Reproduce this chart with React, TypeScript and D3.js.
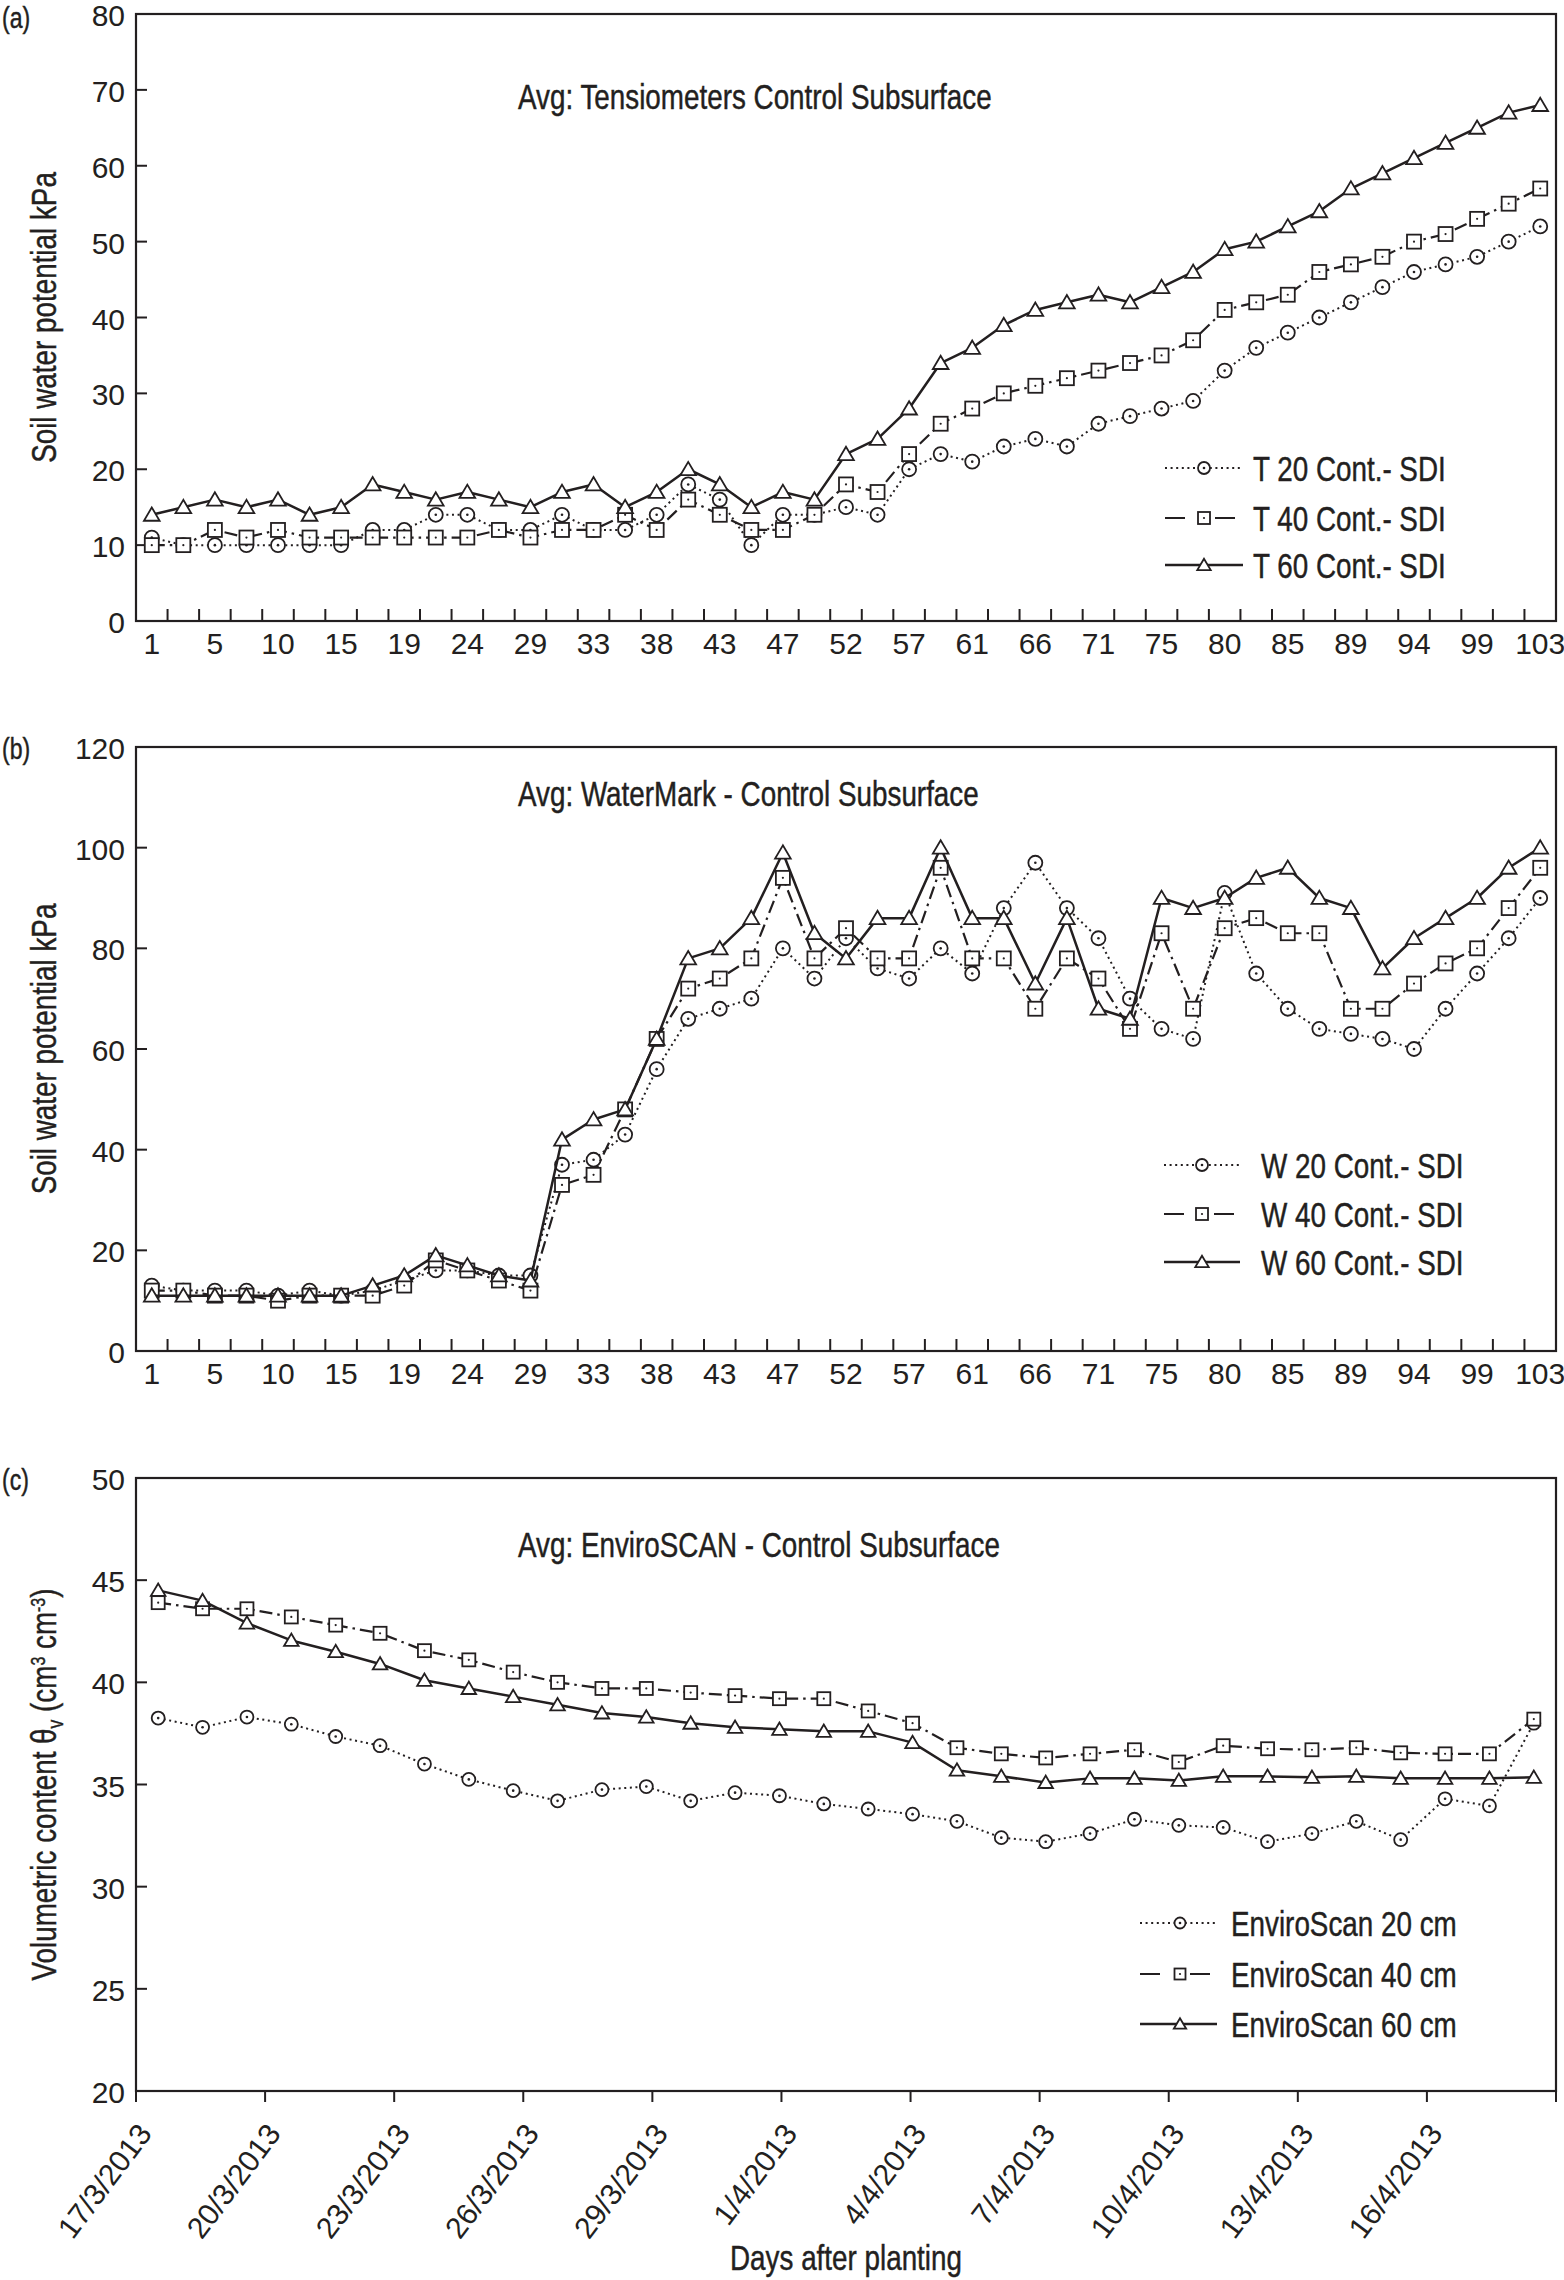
import React from 'react';
import * as d3 from 'd3';

// ---------- DATA ----------
const DAY_CATEGORIES = [1, 3, 5, 8, 10, 13, 15, 17, 19, 22, 24, 27, 29, 31, 33, 36, 38, 41, 43, 45, 47, 50, 52, 55, 57, 59, 61, 64, 66, 69, 71, 73, 75, 78, 80, 83, 85, 87, 89, 92, 94, 97, 99, 101, 103];

const T20 = [11, 10, 10, 10, 10, 10, 10, 12, 12, 14, 14, 12, 12, 14, 12, 12, 14, 18, 16, 10, 14, 14, 15, 14, 20, 22, 21, 23, 24, 23, 26, 27, 28, 29, 33, 36, 38, 40, 42, 44, 46, 47, 48, 50, 52];
const T40 = [10, 10, 12, 11, 12, 11, 11, 11, 11, 11, 11, 12, 11, 12, 12, 14, 12, 16, 14, 12, 12, 14, 18, 17, 22, 26, 28, 30, 31, 32, 33, 34, 35, 37, 41, 42, 43, 46, 47, 48, 50, 51, 53, 55, 57];
const T60 = [14, 15, 16, 15, 16, 14, 15, 18, 17, 16, 17, 16, 15, 17, 18, 15, 17, 20, 18, 15, 17, 16, 22, 24, 28, 34, 36, 39, 41, 42, 43, 42, 44, 46, 49, 50, 52, 54, 57, 59, 61, 63, 65, 67, 68];

const W20 = [13, 12, 12, 12, 11, 12, 11, 12, 14, 16, 16, 15, 15, 37, 38, 43, 56, 66, 68, 70, 80, 74, 82, 76, 74, 80, 75, 88, 97, 88, 82, 70, 64, 62, 91, 75, 68, 64, 63, 62, 60, 68, 75, 82, 90];
const W40 = [12, 12, 11, 11, 10, 11, 11, 11, 13, 18, 16, 14, 12, 33, 35, 48, 62, 72, 74, 78, 94, 78, 84, 78, 78, 96, 78, 78, 68, 78, 74, 64, 83, 68, 84, 86, 83, 83, 68, 68, 73, 77, 80, 88, 96];
const W60 = [11, 11, 11, 11, 11, 11, 11, 13, 15, 19, 17, 15, 14, 42, 46, 48, 62, 78, 80, 86, 99, 83, 78, 86, 86, 100, 86, 86, 73, 86, 68, 66, 90, 88, 90, 94, 96, 90, 88, 76, 82, 86, 90, 96, 100];

const E20 = [38.25, 37.8, 38.3, 37.95, 37.35, 36.9, 36.0, 35.25, 34.7, 34.2, 34.75, 34.9, 34.2, 34.6, 34.45, 34.05, 33.8, 33.55, 33.2, 32.4, 32.2, 32.6, 33.3, 33.0, 32.9, 32.2, 32.6, 33.2, 32.3, 34.3, 33.95, 38.0];
const E40 = [43.9, 43.6, 43.6, 43.2, 42.8, 42.4, 41.55, 41.1, 40.5, 40.0, 39.7, 39.7, 39.5, 39.35, 39.2, 39.2, 38.6, 38.0, 36.8, 36.5, 36.3, 36.5, 36.7, 36.1, 36.9, 36.75, 36.7, 36.8, 36.55, 36.5, 36.5, 38.2];
const E60 = [44.5, 44.0, 42.9, 42.05, 41.5, 40.9, 40.1, 39.7, 39.3, 38.9, 38.5, 38.3, 38.0, 37.8, 37.7, 37.6, 37.6, 37.05, 35.7, 35.4, 35.1, 35.3, 35.3, 35.2, 35.4, 35.4, 35.35, 35.4, 35.3, 35.3, 35.3, 35.35];

const A_TICKS = [0, 10, 20, 30, 40, 50, 60, 70, 80];
const B_TICKS = [0, 20, 40, 60, 80, 100, 120];
const C_TICKS = [20, 25, 30, 35, 40, 45, 50];

const A_LEGEND = ['T 20 Cont.- SDI', 'T 40 Cont.- SDI', 'T 60 Cont.- SDI'];
const B_LEGEND = ['W 20 Cont.- SDI', 'W 40 Cont.- SDI', 'W 60 Cont.- SDI'];
const C_LEGEND = ['EnviroScan 20 cm', 'EnviroScan 40 cm', 'EnviroScan 60 cm'];

const C_START = new Date(2013, 2, 17);
const C_END = new Date(2013, 3, 19);
const C_DATES = d3.timeDay.range(new Date(2013, 2, 17), new Date(2013, 3, 18));

// ---------- STYLE ----------
const INK = '#231f20';
const FONT = "'Liberation Sans', Arimo, Arial, sans-serif";
const NARROW = 0.795;
const TXT_SIZE = 35;
const X0 = 136, X1 = 1556;

const STYLES = [
  { dash: '2,3.6', width: 2, marker: 'circle' },
  { dash: '13,5,2.5,5', width: 2.2, marker: 'square' },
  { dash: null, width: 2.5, marker: 'triangle' },
];

// condensed text: regular face squeezed horizontally
function NText({
  x, y, rotate = 0, size = TXT_SIZE, anchor = 'start', dy, children,
}: {
  x: number; y: number; rotate?: number; size?: number; anchor?: string; dy?: string; children: React.ReactNode;
}) {
  return (
    <text
      transform={`translate(${x},${y}) rotate(${rotate}) scale(${NARROW},1)`}
      textAnchor={anchor}
      dy={dy}
      fontFamily={FONT}
      fontSize={size}
      fill={INK}
      stroke={INK}
      strokeWidth={0.45}
    >
      {children}
    </text>
  );
}

function Marker({ kind, x, y, size }: { kind: string; x: number; y: number; size: number }) {
  const h = size / 2;
  if (kind === 'circle') {
    return (
      <g>
        <circle cx={x} cy={y} r={h} fill="#fff" stroke={INK} strokeWidth={1.8} />
        <circle cx={x} cy={y} r={1.3} fill={INK} />
      </g>
    );
  }
  if (kind === 'square') {
    return (
      <g>
        <rect x={x - h} y={y - h} width={size} height={size} fill="#fff" stroke={INK} strokeWidth={1.8} />
        <circle cx={x} cy={y} r={1.1} fill={INK} />
      </g>
    );
  }
  return (
    <polygon
      points={`${x},${y - h * 1.05} ${x - h * 1.12},${y + h * 0.85} ${x + h * 1.12},${y + h * 0.85}`}
      fill="#fff"
      stroke={INK}
      strokeWidth={1.8}
    />
  );
}

type PanelProps = {
  yScale: d3.ScaleLinear<number, number>;
  yTicks: number[];
  xCenters: number[];
  series: number[][];
  title: string;
  titleY: number;
  label: string;
  labelY: number;
  legend: string[];
  legendX: [number, number, number, number];
  legendY: number[];
  markerSize: number;
  yTitle: React.ReactNode;
};

function Panel(p: PanelProps) {
  const [yBot, yTop] = p.yScale.range();
  const line = d3
    .line<number>()
    .x((_, i) => p.xCenters[i])
    .y((d) => p.yScale(d));
  return (
    <g>
      <rect x={X0} y={yTop} width={X1 - X0} height={yBot - yTop} fill="none" stroke={INK} strokeWidth={2.2} />
      {p.yTicks.map((t) => (
        <g key={t}>
          <line x1={X0} x2={X0 + 11} y1={p.yScale(t)} y2={p.yScale(t)} stroke={INK} strokeWidth={2} />
          <text x={125} y={p.yScale(t)} dy="0.40em" textAnchor="end" fontFamily={FONT} fontSize={30} fill={INK}>
            {t}
          </text>
        </g>
      ))}
      <NText x={2} y={p.labelY} size={29}>{p.label}</NText>
      <NText x={518} y={p.titleY}>{p.title}</NText>
      <NText x={56} y={(yTop + yBot) / 2} rotate={-90} anchor="middle">
        {p.yTitle}
      </NText>
      {p.series.map((s, si) => {
        const st = STYLES[si];
        return (
          <g key={si}>
            <path
              d={line(s) || ''}
              fill="none"
              stroke={INK}
              strokeWidth={st.width}
              strokeDasharray={st.dash || undefined}
              strokeLinejoin="round"
            />
            {s.map((v, i) => (
              <Marker key={i} kind={st.marker} x={p.xCenters[i]} y={p.yScale(v)} size={p.markerSize} />
            ))}
          </g>
        );
      })}
      {p.legend.map((name, li) => {
        const st = STYLES[li];
        const y = p.legendY[li];
        const [lx0, lm, lx1, tx] = p.legendX;
        return (
          <g key={name}>
            <line
              x1={lx0}
              x2={lx1}
              y1={y}
              y2={y}
              stroke={INK}
              strokeWidth={st.width}
              strokeDasharray={li === 1 ? '20,30' : st.dash || undefined}
            />
            <Marker kind={st.marker} x={lm} y={y} size={p.markerSize - 2} />
            <NText x={tx} y={y} dy="0.36em">{name}</NText>
          </g>
        );
      })}
    </g>
  );
}

export default function App() {
  const band = d3.scaleBand<string>().domain(DAY_CATEGORIES.map(String)).range([X0, X1]);
  const bw = band.bandwidth();
  const dayCenters = DAY_CATEGORIES.map((d) => (band(String(d)) as number) + bw / 2);
  const dayBounds = DAY_CATEGORIES.slice(1).map((d) => band(String(d)) as number);
  const dayLabels = DAY_CATEGORIES.map((d, i) => ({ d, i })).filter((o) => o.i % 2 === 0);

  const yA = d3.scaleLinear().domain([0, 80]).range([621, 14]);
  const yB = d3.scaleLinear().domain([0, 120]).range([1351, 747]);
  const yC = d3.scaleLinear().domain([20, 50]).range([2091, 1478]);

  const cBand = d3.scaleBand<string>().domain(C_DATES.map((d) => d.toISOString())).range([X0, X1]);
  const cCenters = C_DATES.map((d) => (cBand(d.toISOString()) as number) + cBand.bandwidth() / 2);
  const tScale = d3.scaleTime().domain([C_START, C_END]).range([X0, X1]);
  const cTicks = d3.range(0, 34, 3).map((k) => d3.timeDay.offset(C_START, k));
  const fmt = d3.timeFormat('%-d/%-m/%Y');

  const catAxis = (axisY: number) => (
    <g>
      {dayBounds.map((x, i) => (
        <line key={i} x1={x} x2={x} y1={axisY} y2={axisY - 12} stroke={INK} strokeWidth={2} />
      ))}
      {dayLabels.map((o) => (
        <text key={o.d} x={dayCenters[o.i]} y={axisY + 33} textAnchor="middle" fontFamily={FONT} fontSize={30} fill={INK}>
          {o.d}
        </text>
      ))}
    </g>
  );

  return (
    <svg
      width={1564}
      height={2280}
      viewBox="0 0 1564 2280"
      style={{ position: 'absolute', left: 0, top: 0, background: '#fff' }}
    >
      <rect width={1564} height={2280} fill="#fff" />
      <Panel
        yScale={yA}
        yTicks={A_TICKS}
        xCenters={dayCenters}
        series={[T20, T40, T60]}
        title="Avg: Tensiometers Control Subsurface"
        titleY={109}
        label="(a)"
        labelY={28}
        legend={A_LEGEND}
        legendX={[1165, 1204, 1243, 1253]}
        legendY={[468, 518, 565]}
        markerSize={14}
        yTitle="Soil water potential kPa"
      />
      {catAxis(621)}
      <Panel
        yScale={yB}
        yTicks={B_TICKS}
        xCenters={dayCenters}
        series={[W20, W40, W60]}
        title="Avg: WaterMark - Control Subsurface"
        titleY={806}
        label="(b)"
        labelY={759}
        legend={B_LEGEND}
        legendX={[1164, 1202, 1240, 1261]}
        legendY={[1165, 1214, 1262]}
        markerSize={14}
        yTitle="Soil water potential kPa"
      />
      {catAxis(1351)}
      <Panel
        yScale={yC}
        yTicks={C_TICKS}
        xCenters={cCenters}
        series={[E20, E40, E60]}
        title="Avg: EnviroSCAN - Control Subsurface"
        titleY={1557}
        label="(c)"
        labelY={1490}
        legend={C_LEGEND}
        legendX={[1140, 1180, 1217, 1231]}
        legendY={[1923, 1974, 2024]}
        markerSize={13}
        yTitle={
          <>
            Volumetric content θ
            <tspan dy={7} fontSize={22}>v</tspan>
            <tspan dy={-7}> (cm</tspan>
            <tspan dy={-11} fontSize={20}>3</tspan>
            <tspan dy={11}> cm</tspan>
            <tspan dy={-11} fontSize={20}>-3</tspan>
            <tspan dy={11}>)</tspan>
          </>
        }
      />
      {cTicks.map((d, i) => {
        const x = tScale(d);
        return (
          <g key={i}>
            <line x1={x} x2={x} y1={2091} y2={2102} stroke={INK} strokeWidth={2} />
            {i < cTicks.length - 1 && (
              <text
                transform={`translate(${x + 17},${2091 + 43}) rotate(-53)`}
                textAnchor="end"
                fontFamily={FONT}
                fontSize={30}
                fill={INK}
              >
                {fmt(d)}
              </text>
            )}
          </g>
        );
      })}
      <NText x={(X0 + X1) / 2} y={2270} anchor="middle">Days after planting</NText>
    </svg>
  );
}
